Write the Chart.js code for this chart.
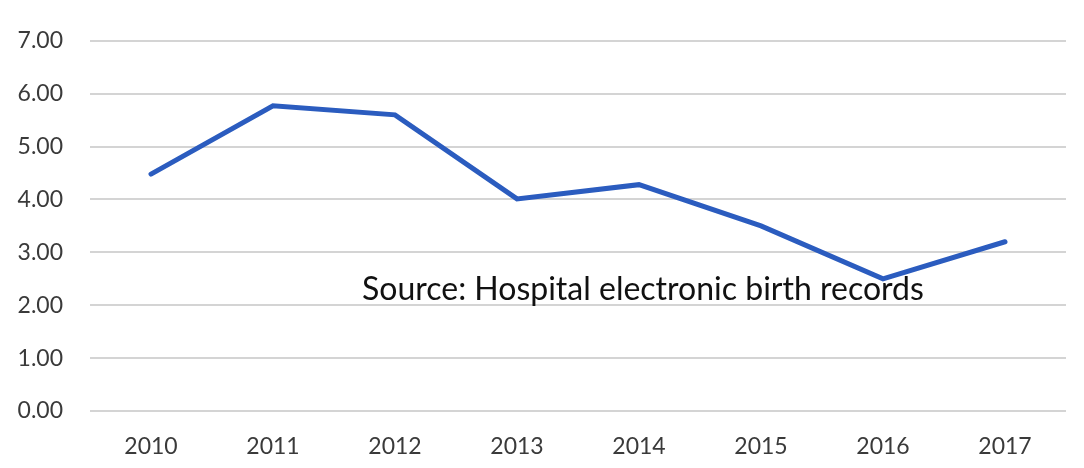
<!DOCTYPE html>
<html>
<head>
<meta charset="utf-8">
<script src="https://cdn.jsdelivr.net/npm/chart.js@4"></script>
<style>
  html, body { margin: 0; padding: 0; background: #fff; }
  #wrap { width: 1084px; height: 468px; }
</style>
</head>
<body>
<div id="wrap"><canvas id="chart" width="1084" height="468"></canvas></div>
<script>
// data
const years = ["2010", "2011", "2012", "2013", "2014", "2015", "2016", "2017"];
const rates = [4.48, 5.77, 5.60, 4.01, 4.28, 3.50, 2.50, 3.20];
const yTicks = [0, 1, 2, 3, 4, 5, 6, 7];
const sourceNote = "Source: Hospital electronic birth records";

const FONT = "Lato, 'Open Sans', sans-serif";

// draws the source note inside the plot
const notePlugin = {
    id: "note",
    afterDatasetsDraw(chart) {
        const { ctx, chartArea, scales } = chart;
        ctx.save();
        ctx.font = "32px " + FONT;
        ctx.fillStyle = "#111";
        ctx.textAlign = "left";
        ctx.textBaseline = "alphabetic";
        ctx.fillText(sourceNote, chartArea.left + 272, scales.y.getPixelForValue(2) - 5);
        ctx.restore();
    },
};

new Chart(document.getElementById("chart"), {
    type: "line",
    data: {
        labels: years,
        datasets: [{
            data: rates,
            borderColor: "#2b5cbf",
            borderWidth: 5,
            pointRadius: 0,
            tension: 0,
            borderCapStyle: "round",
            borderJoinStyle: "miter",
        }],
    },
    options: {
        responsive: false,
        animation: false,
        layout: { padding: { top: 26, right: 18, left: 0, bottom: 0 } },
        plugins: { legend: { display: false }, tooltip: { enabled: false } },
        scales: {
            x: {
                offset: true,
                grid: { display: false },
                border: { display: false },
                ticks: { color: "#3a3a3a", font: { family: FONT, size: 23 }, padding: 14, maxRotation: 0 },
                afterFit(s) { s.height = 57; },
            },
            y: {
                min: 0,
                max: 7,
                afterBuildTicks(s) { s.ticks = yTicks.map((v) => ({ value: v })); },
                grid: { color: "#d4d4d4", lineWidth: 2, drawTicks: false },
                border: { display: false },
                ticks: {
                    color: "#3a3a3a",
                    font: { family: FONT, size: 23 },
                    padding: 27,
                    callback: (v) => v.toFixed(2),
                },
                afterFit(s) { s.width = 90; },
            },
        },
    },
    plugins: [notePlugin],
});
</script>
</body>
</html>
